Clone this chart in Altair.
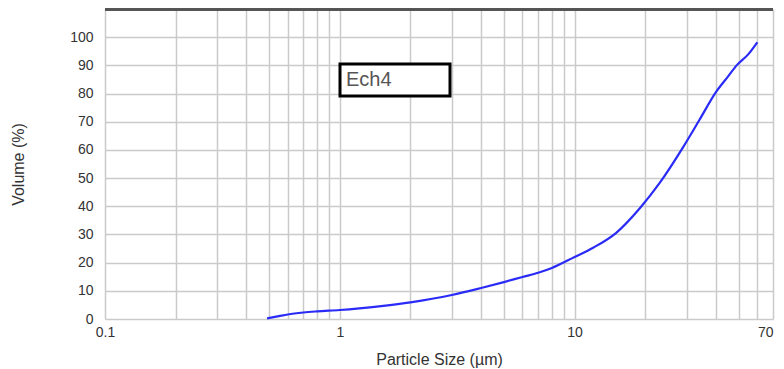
import altair as alt
import pandas as pd

# Particle size distribution (cumulative volume), sample "Ech4"
sizes = [0.49, 0.55, 0.6, 0.7, 0.8, 1.0, 1.5, 2, 3, 4, 5, 6, 7, 8, 10, 12, 15,
         19, 23, 29, 34, 40, 45, 49, 55, 60]
volumes = [0.2, 1.0, 1.6, 2.3, 2.7, 3.2, 4.6, 5.9, 8.5, 11.0, 13.1, 14.9, 16.4,
           18.1, 22.0, 25.3, 30.5, 39.4, 48.2, 61.0, 70.6, 80.5, 86.0, 90.0,
           94.0, 98.2]
series_name = "Ech4"

x_grid_values = [0.1, 0.2, 0.3, 0.4, 0.5, 0.6, 0.7, 0.8, 0.9,
                 1, 2, 3, 4, 5, 6, 7, 8, 9,
                 10, 20, 30, 40, 50, 60, 70]
x_label_values = [0.1, 1, 10, 70]
y_tick_values = [0, 10, 20, 30, 40, 50, 60, 70, 80, 90, 100]
y_top = 110

df = pd.DataFrame({"size": sizes, "volume": volumes, "series": series_name})

label_list = "[" + ",".join(str(v) for v in x_label_values) + "]"
x_label_expr = f"indexof({label_list}, datum.value) >= 0 ? format(datum.value, '~g') : ''"
x_align_expr = f"datum.value == {x_label_values[-1]} ? 'right' : 'center'"

grid_color = "#cacaca"
text_color = "#333333"

x_scale = alt.Scale(type="log", domain=[0.1, 70], nice=False)
y_scale = alt.Scale(domain=[0, y_top], nice=False)


def make_y_axis():
    return alt.Axis(values=y_tick_values, grid=True, gridColor=grid_color,
                    gridWidth=1.5, domain=False, ticks=False, tickSize=0,
                    labelOverlap=False,
                    labelPadding=12, labelFontSize=14, labelColor=text_color,
                    labelFont="Liberation Sans",
                    title="Volume (%)", titleFontSize=16,
                    titleFontWeight="normal", titleColor=text_color,
                    titleFont="Liberation Sans",
                    titleX=-87, titleY=155, titleAngle=270,
                    titleAlign="center", titleBaseline="middle")


# invisible filler (spaces closed by a blank glyph so they are not trimmed)
# widens the legend frame to the reference size
legend_filler = " " * 6 + "\u2009" + "\u2800"

line = alt.Chart(df).mark_line(strokeWidth=2.2, interpolate="monotone").encode(
    x=alt.X("size:Q", scale=x_scale,
            axis=alt.Axis(values=x_grid_values, labelExpr=x_label_expr,
                          labelAlign={"expr": x_align_expr},
                          grid=True, gridColor=grid_color, gridWidth=1.5,
                          domain=False, ticks=False, tickSize=0,
                          labelPadding=6, labelFontSize=14, labelColor=text_color,
                          labelFont="Liberation Sans",
                          title="Particle Size (µm)", titleFontSize=16,
                          titleFontWeight="normal", titleColor=text_color,
                          titleFont="Liberation Sans",
                          titleY=40, titleBaseline="middle")),
    y=alt.Y("volume:Q", scale=y_scale, axis=make_y_axis()),
    color=alt.Color("series:N",
                    scale=alt.Scale(range=["#2b2bf8"]),
                    legend=alt.Legend(
                        title=None, orient="none", legendX=235, legendY=55,
                        labelExpr="datum.label + '" + legend_filler + "'",
                        labelFontSize=20, labelColor="#555555",
                        labelFont="Liberation Sans", labelOffset={"expr": "-20"},
                        labelLimit=300,
                        symbolSize=0, symbolOpacity=0, symbolStrokeWidth=0,
                        padding=6, strokeColor="black",
                        fillColor="white")),
)

top_bar = alt.Chart(df).mark_rule(color="#555555", strokeWidth=4).encode(
    y=alt.YDatum(y_top, scale=y_scale, axis=make_y_axis())
)

chart = alt.layer(line, top_bar).properties(
    width=668, height=310,
    autosize=alt.AutoSizeParams(type="none"),
    padding={"left": 97, "top": 1, "right": 3, "bottom": 50},
).configure_view(stroke=None).configure_legend(strokeWidth=3)

chart.save("out.html", embed_options={"renderer": "svg", "actions": False})
